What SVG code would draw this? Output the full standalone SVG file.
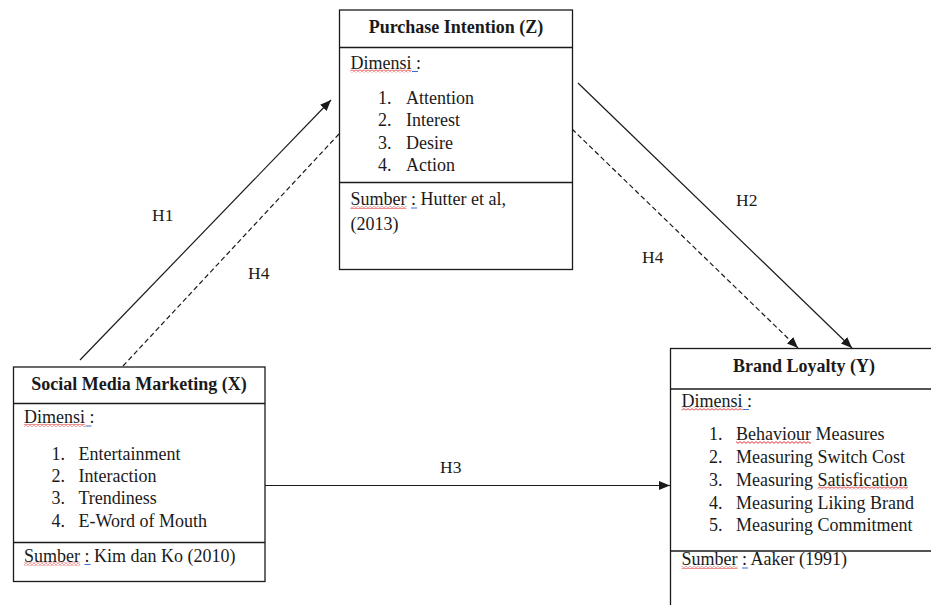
<svg xmlns="http://www.w3.org/2000/svg" width="931" height="605" viewBox="0 0 931 605">
<style>
.box{fill:#fff;stroke:#1a1a1a;stroke-width:1.3}
.sep{stroke:#1a1a1a;stroke-width:1.3}
.hd{font-family:"Liberation Serif","Times New Roman",serif;font-size:18px;font-weight:bold;fill:#1a1a1a;text-anchor:middle}
.tx{font-family:"Liberation Serif","Times New Roman",serif;font-size:18px;fill:#1a1a1a}
.lb{font-family:"Liberation Serif","Times New Roman",serif;font-size:17.5px;fill:#1a1a1a}
.ln{stroke:#1a1a1a;stroke-width:1.2;fill:none}
.dash{stroke-dasharray:5 3}
.blue{fill:#3a6bd6}
</style>
<defs>
<marker id="ah" markerUnits="userSpaceOnUse" markerWidth="12" markerHeight="10" refX="11" refY="4.5" orient="auto">
<path d="M0,0 L11,4.5 L0,9 z" fill="#1a1a1a"/>
</marker>
<pattern id="sq" patternUnits="userSpaceOnUse" width="4" height="3">
<path d="M0,0.6 L2,2.4 L4,0.6" fill="none" stroke="#e02020" stroke-width="0.9"/>
</pattern>
</defs>
<rect width="931" height="605" fill="#fff"/>

<g id="connectors">
<line class="ln" x1="80" y1="360" x2="331" y2="100" marker-end="url(#ah)"/>
<line class="ln dash" x1="123" y1="366" x2="339" y2="134"/>
<line class="ln" x1="578" y1="83" x2="852" y2="348" marker-end="url(#ah)"/>
<line class="ln dash" x1="572" y1="129" x2="798" y2="348" marker-end="url(#ah)"/>
<line class="ln" x1="265" y1="485.5" x2="670" y2="485.5" marker-end="url(#ah)"/>
<text class="lb" x="152" y="221">H1</text>
<text class="lb" x="248" y="279">H4</text>
<text class="lb" x="736" y="206">H2</text>
<text class="lb" x="642" y="263">H4</text>
<text class="lb" x="440" y="473">H3</text>
</g>

<g id="purchase-intention">
<rect class="box" x="339.5" y="10" width="233" height="259.5"/>
<line class="sep" x1="339.5" y1="47.5" x2="572.5" y2="47.5"/>
<line class="sep" x1="339.5" y1="182.5" x2="572.5" y2="182.5"/>
<text class="hd" x="456" y="33">Purchase Intention (Z)</text>
<text class="tx" x="350.5" y="68.5">Dimensi :</text>
<rect x="350.5" y="69.5" width="61" height="3" fill="url(#sq)"/>
<rect class="blue" x="412" y="71" width="6" height="1"/>
<text class="tx" x="378" y="104">1.</text><text class="tx" x="406" y="104">Attention</text>
<text class="tx" x="378" y="126">2.</text><text class="tx" x="406" y="126">Interest</text>
<text class="tx" x="378" y="148.5">3.</text><text class="tx" x="406" y="148.5">Desire</text>
<text class="tx" x="378" y="171">4.</text><text class="tx" x="406" y="171">Action</text>
<text class="tx" x="350.5" y="205">Sumber : Hutter et al,</text>
<rect x="350.5" y="206" width="56" height="3" fill="url(#sq)"/>
<rect class="blue" x="411" y="207.5" width="6" height="1"/>
<text class="tx" x="350.5" y="230">(2013)</text>
</g>

<g id="social-media-marketing">
<rect class="box" x="13.5" y="367" width="251.5" height="214.5"/>
<line class="sep" x1="13.5" y1="403.5" x2="265" y2="403.5"/>
<line class="sep" x1="13.5" y1="542.5" x2="265" y2="542.5"/>
<text class="hd" x="139" y="389.5">Social Media Marketing (X)</text>
<text class="tx" x="24" y="423">Dimensi :</text>
<rect x="24" y="424" width="61" height="3" fill="url(#sq)"/>
<rect class="blue" x="85.5" y="425.5" width="6" height="1"/>
<text class="tx" x="51.5" y="460">1.</text><text class="tx" x="78.5" y="460">Entertainment</text>
<text class="tx" x="51.5" y="482">2.</text><text class="tx" x="78.5" y="482">Interaction</text>
<text class="tx" x="51.5" y="504">3.</text><text class="tx" x="78.5" y="504">Trendiness</text>
<text class="tx" x="51.5" y="526.5">4.</text><text class="tx" x="78.5" y="526.5">E-Word of Mouth</text>
<text class="tx" x="24" y="561.5">Sumber : Kim dan Ko (2010)</text>
<rect x="24" y="562.5" width="56" height="3" fill="url(#sq)"/>
<rect class="blue" x="84.5" y="564" width="6" height="1"/>
</g>

<g id="brand-loyalty">
<rect class="box" x="670.5" y="348.5" width="265" height="265"/>
<line class="sep" x1="670.5" y1="389" x2="931" y2="389"/>
<line class="sep" x1="670.5" y1="551" x2="931" y2="551"/>
<text class="hd" x="804" y="372">Brand Loyalty (Y)</text>
<text class="tx" x="681.5" y="406.5">Dimensi :</text>
<rect x="681.5" y="407.5" width="61" height="3" fill="url(#sq)"/>
<rect class="blue" x="743" y="409" width="6" height="1"/>
<text class="tx" x="709" y="440">1.</text><text class="tx" x="736" y="440">Behaviour Measures</text>
<rect x="736" y="441" width="75" height="3" fill="url(#sq)"/>
<text class="tx" x="709" y="462.5">2.</text><text class="tx" x="736" y="462.5">Measuring Switch Cost</text>
<text class="tx" x="709" y="485.5">3.</text><text class="tx" x="736" y="485.5">Measuring Satisfication</text>
<rect x="818" y="486.5" width="90" height="3" fill="url(#sq)"/>
<text class="tx" x="709" y="508.5">4.</text><text class="tx" x="736" y="508.5">Measuring Liking Brand</text>
<text class="tx" x="709" y="531">5.</text><text class="tx" x="736" y="531">Measuring Commitment</text>
<text class="tx" x="681.5" y="565">Sumber : Aaker (1991)</text>
<rect x="681.5" y="566" width="56" height="3" fill="url(#sq)"/>
<rect class="blue" x="742" y="567.5" width="6" height="1"/>
</g>
</svg>
